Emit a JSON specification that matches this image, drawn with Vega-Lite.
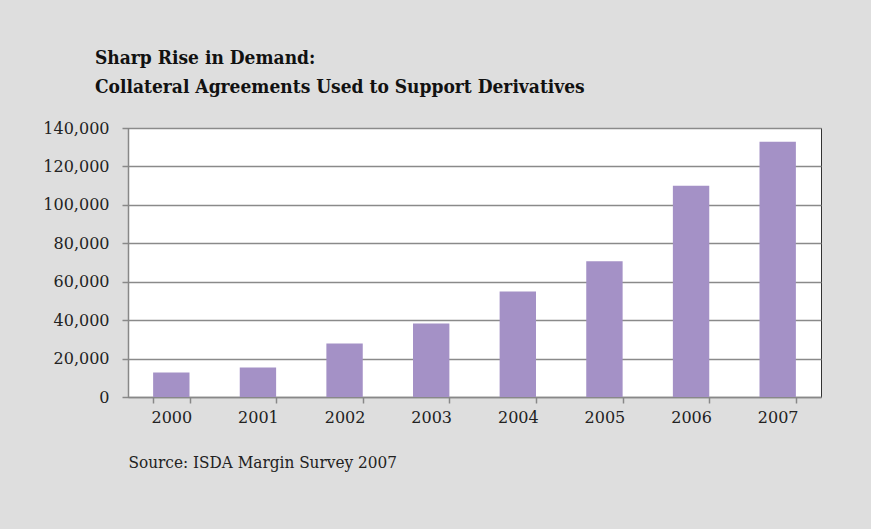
{
  "$schema": "https://vega.github.io/schema/vega-lite/v6.json",
  "autosize": {"type": "none"},
  "width": 693,
  "height": 269,
  "padding": {"left": 128, "top": 128, "right": 50, "bottom": 132},
  "background": "#dedede",
  "title": {
    "text": ["Sharp Rise in Demand:", "Collateral Agreements Used to Support Derivatives"],
    "anchor": "start",
    "frame": "group",
    "dx": -33,
    "offset": 23,
    "font": "DejaVu Serif Condensed",
    "fontSize": 19,
    "fontWeight": "bold",
    "color": "#111111",
    "lineHeight": 29
  },
  "data": {
    "values": [
      {"year": "2000", "agreements": 12800},
      {"year": "2001", "agreements": 15400},
      {"year": "2002", "agreements": 27900},
      {"year": "2003", "agreements": 38300},
      {"year": "2004", "agreements": 54900},
      {"year": "2005", "agreements": 70600},
      {"year": "2006", "agreements": 109900},
      {"year": "2007", "agreements": 132800}
    ]
  },
  "mark": {"type": "bar", "color": "#a491c6"},
  "encoding": {
    "x": {
      "field": "year",
      "type": "ordinal",
      "scale": {"paddingInner": 0.58, "paddingOuter": 0.29},
      "axis": {
        "title": "Source: ISDA Margin Survey 2007",
        "titleAnchor": "start",
        "titleAlign": "left",
        "titleFont": "DejaVu Serif Condensed",
        "titleFontSize": 17,
        "titleFontWeight": "normal",
        "titleColor": "#222222",
        "titlePadding": 29,
        "labelAngle": 0,
        "tickBand": "extent",
        "labelFont": "DejaVu Serif",
        "labelFontSize": 16,
        "labelColor": "#222222",
        "labelPadding": 6,
        "tickSize": 6,
        "tickColor": "#888888",
        "domainColor": "#888888",
        "domainWidth": 1.5,
        "tickWidth": 1.5
      }
    },
    "y": {
      "field": "agreements",
      "type": "quantitative",
      "scale": {"domain": [0, 140000]},
      "axis": {
        "title": null,
        "values": [0, 20000, 40000, 60000, 80000, 100000, 120000, 140000],
        "format": ",d",
        "labelFont": "DejaVu Serif",
        "labelFontSize": 16,
        "labelColor": "#222222",
        "labelPadding": 13,
        "tickSize": 6,
        "tickColor": "#888888",
        "tickWidth": 1.5,
        "domainColor": "#888888",
        "domainWidth": 1.5,
        "grid": true,
        "gridColor": "#8a8a8a",
        "gridWidth": 1.5
      }
    }
  },
  "config": {
    "view": {"fill": "white", "stroke": "#333333", "strokeWidth": 1}
  }
}
